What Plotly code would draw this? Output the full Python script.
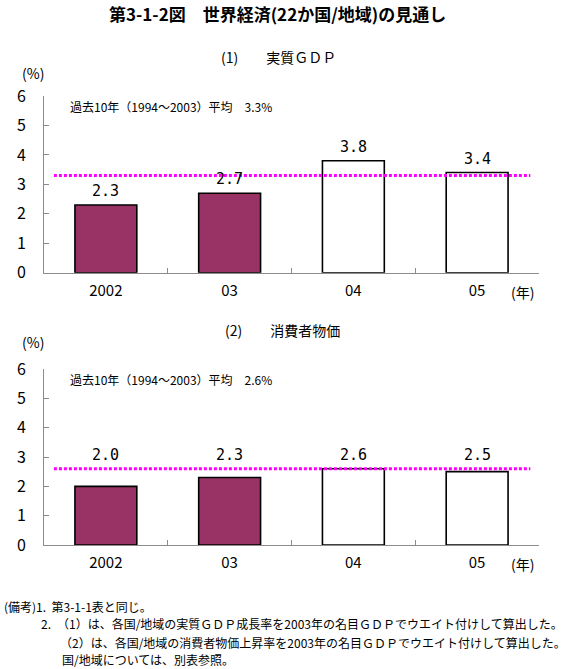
import plotly.graph_objects as go

W, H = 578, 669

years = ["2002", "03", "04", "05"]
gdp = [2.3, 2.7, 3.8, 3.4]
cpi = [2.0, 2.3, 2.6, 2.5]
gdp_avg = 3.3
cpi_avg = 2.6
actual_flags = [True, True, False, False]  # filled = actual, hollow = forecast
y_ticks = [0, 1, 2, 3, 4, 5, 6]

PLUM = "#993366"
MAGENTA = "#FF00FF"
AXIS_GREY = "#8c8c8c"
JP = "Noto Sans CJK JP, sans-serif"
MONO = "DejaVu Sans Mono, monospace"

def px_x(p):
    return p / W

def px_y(p):
    return 1 - p / H

fig = go.Figure()

fills = [PLUM if a else "white" for a in actual_flags]

for vals, xa, ya in [(gdp, "x", "y"), (cpi, "x2", "y2")]:
    fig.add_trace(go.Bar(
        x=years, y=vals, xaxis=xa, yaxis=ya,
        marker=dict(color=fills, line=dict(color="black", width=1.6)),
        width=0.5,
        showlegend=False,
        hoverinfo="skip",
    ))

axis_common = dict(
    showline=True, linecolor=AXIS_GREY, linewidth=1,
    ticks="inside", ticklen=5, tickcolor=AXIS_GREY,
    showgrid=False, zeroline=False, automargin=False,
)

top_dom = [px_y(272.7), px_y(96)]
bot_dom = [px_y(545), px_y(369)]
x_dom = [px_x(44), px_x(539)]

fig.update_layout(
    width=W, height=H,
    margin=dict(l=0, r=0, t=0, b=0, pad=0),
    paper_bgcolor="white", plot_bgcolor="white",
    xaxis=dict(domain=x_dom, anchor="y", type="category", tickson="boundaries",
               range=[-0.5, 3.5], ticklabelstandoff=4,
               tickfont=dict(family=JP, size=15, color="black"), **axis_common),
    yaxis=dict(domain=top_dom, anchor="x", range=[0, 6], tickvals=y_ticks,
               ticklabelstandoff=14,
               tickfont=dict(family=JP, size=16, color="black"), **axis_common),
    xaxis2=dict(domain=x_dom, anchor="y2", type="category", tickson="boundaries",
                range=[-0.5, 3.5], ticklabelstandoff=4,
                tickfont=dict(family=JP, size=15, color="black"), **axis_common),
    yaxis2=dict(domain=bot_dom, anchor="x2", range=[0, 6], tickvals=y_ticks,
                ticklabelstandoff=14,
                tickfont=dict(family=JP, size=16, color="black"), **axis_common),
)

# average lines
for avg, xr, yr in [(gdp_avg, "x", "y"), (cpi_avg, "x2", "y2")]:
    fig.add_shape(type="line", xref=xr, yref=yr, x0=-0.42, x1=3.43, y0=avg, y1=avg,
                  line=dict(color=MAGENTA, width=3, dash="3px,2px"))

ann = []

# value labels: GDP just above bars; CPI labels lifted above the average line
for i, v in enumerate(gdp):
    ann.append(dict(x=i, y=v, xref="x", yref="y", text=f"{v:.1f}", showarrow=False,
                    yanchor="middle", yshift=14,
                    font=dict(family=MONO, size=15, color="black")))
cpi_label_level = 3.07
for i, v in enumerate(cpi):
    ann.append(dict(x=i, y=cpi_label_level, xref="x2", yref="y2", text=f"{v:.1f}",
                    showarrow=False, yanchor="middle",
                    font=dict(family=MONO, size=15, color="black")))

def text(x, y, s, size=13, family=JP, xanchor="center", bold=False):
    if bold:
        s = f"<b>{s}</b>"
    ann.append(dict(x=px_x(x), y=px_y(y), xref="paper", yref="paper", text=s,
                    showarrow=False, xanchor=xanchor, yanchor="middle",
                    font=dict(family=family, size=size, color="black")))

text(277, 14, "第3-1-2図　世界経済(22か国/地域)の見通し", size=17, bold=True)
text(278, 57, "(1)　　実質ＧＤＰ", size=14)
text(33, 73, "(%)", size=14)
text(68, 107, f"過去10年（1994～2003）平均　{gdp_avg}%", size=12, xanchor="left")
text(522, 292, "(年)", size=14)

text(282, 330, "(2)　　消費者物価", size=14)
text(33, 342, "(%)", size=14)
text(68, 379, f"過去10年（1994～2003）平均　{cpi_avg}%", size=12, xanchor="left")
text(522, 564, "(年)", size=14)

notes = [
    (2, 606, "(備考)1.  第3-1-1表と同じ。"),
    (39, 623, "2.　（1）は、各国/地域の実質ＧＤＰ成長率を2003年の名目ＧＤＰでウエイト付けして算出した。"),
    (58, 642, "（2）は、各国/地域の消費者物価上昇率を2003年の名目ＧＤＰでウエイト付けして算出した。"),
    (60, 659, "国/地域については、別表参照。"),
]
for x, y, s in notes:
    text(x, y, s, size=12, xanchor="left")

fig.update_layout(annotations=ann)

fig.write_html("out.html")
